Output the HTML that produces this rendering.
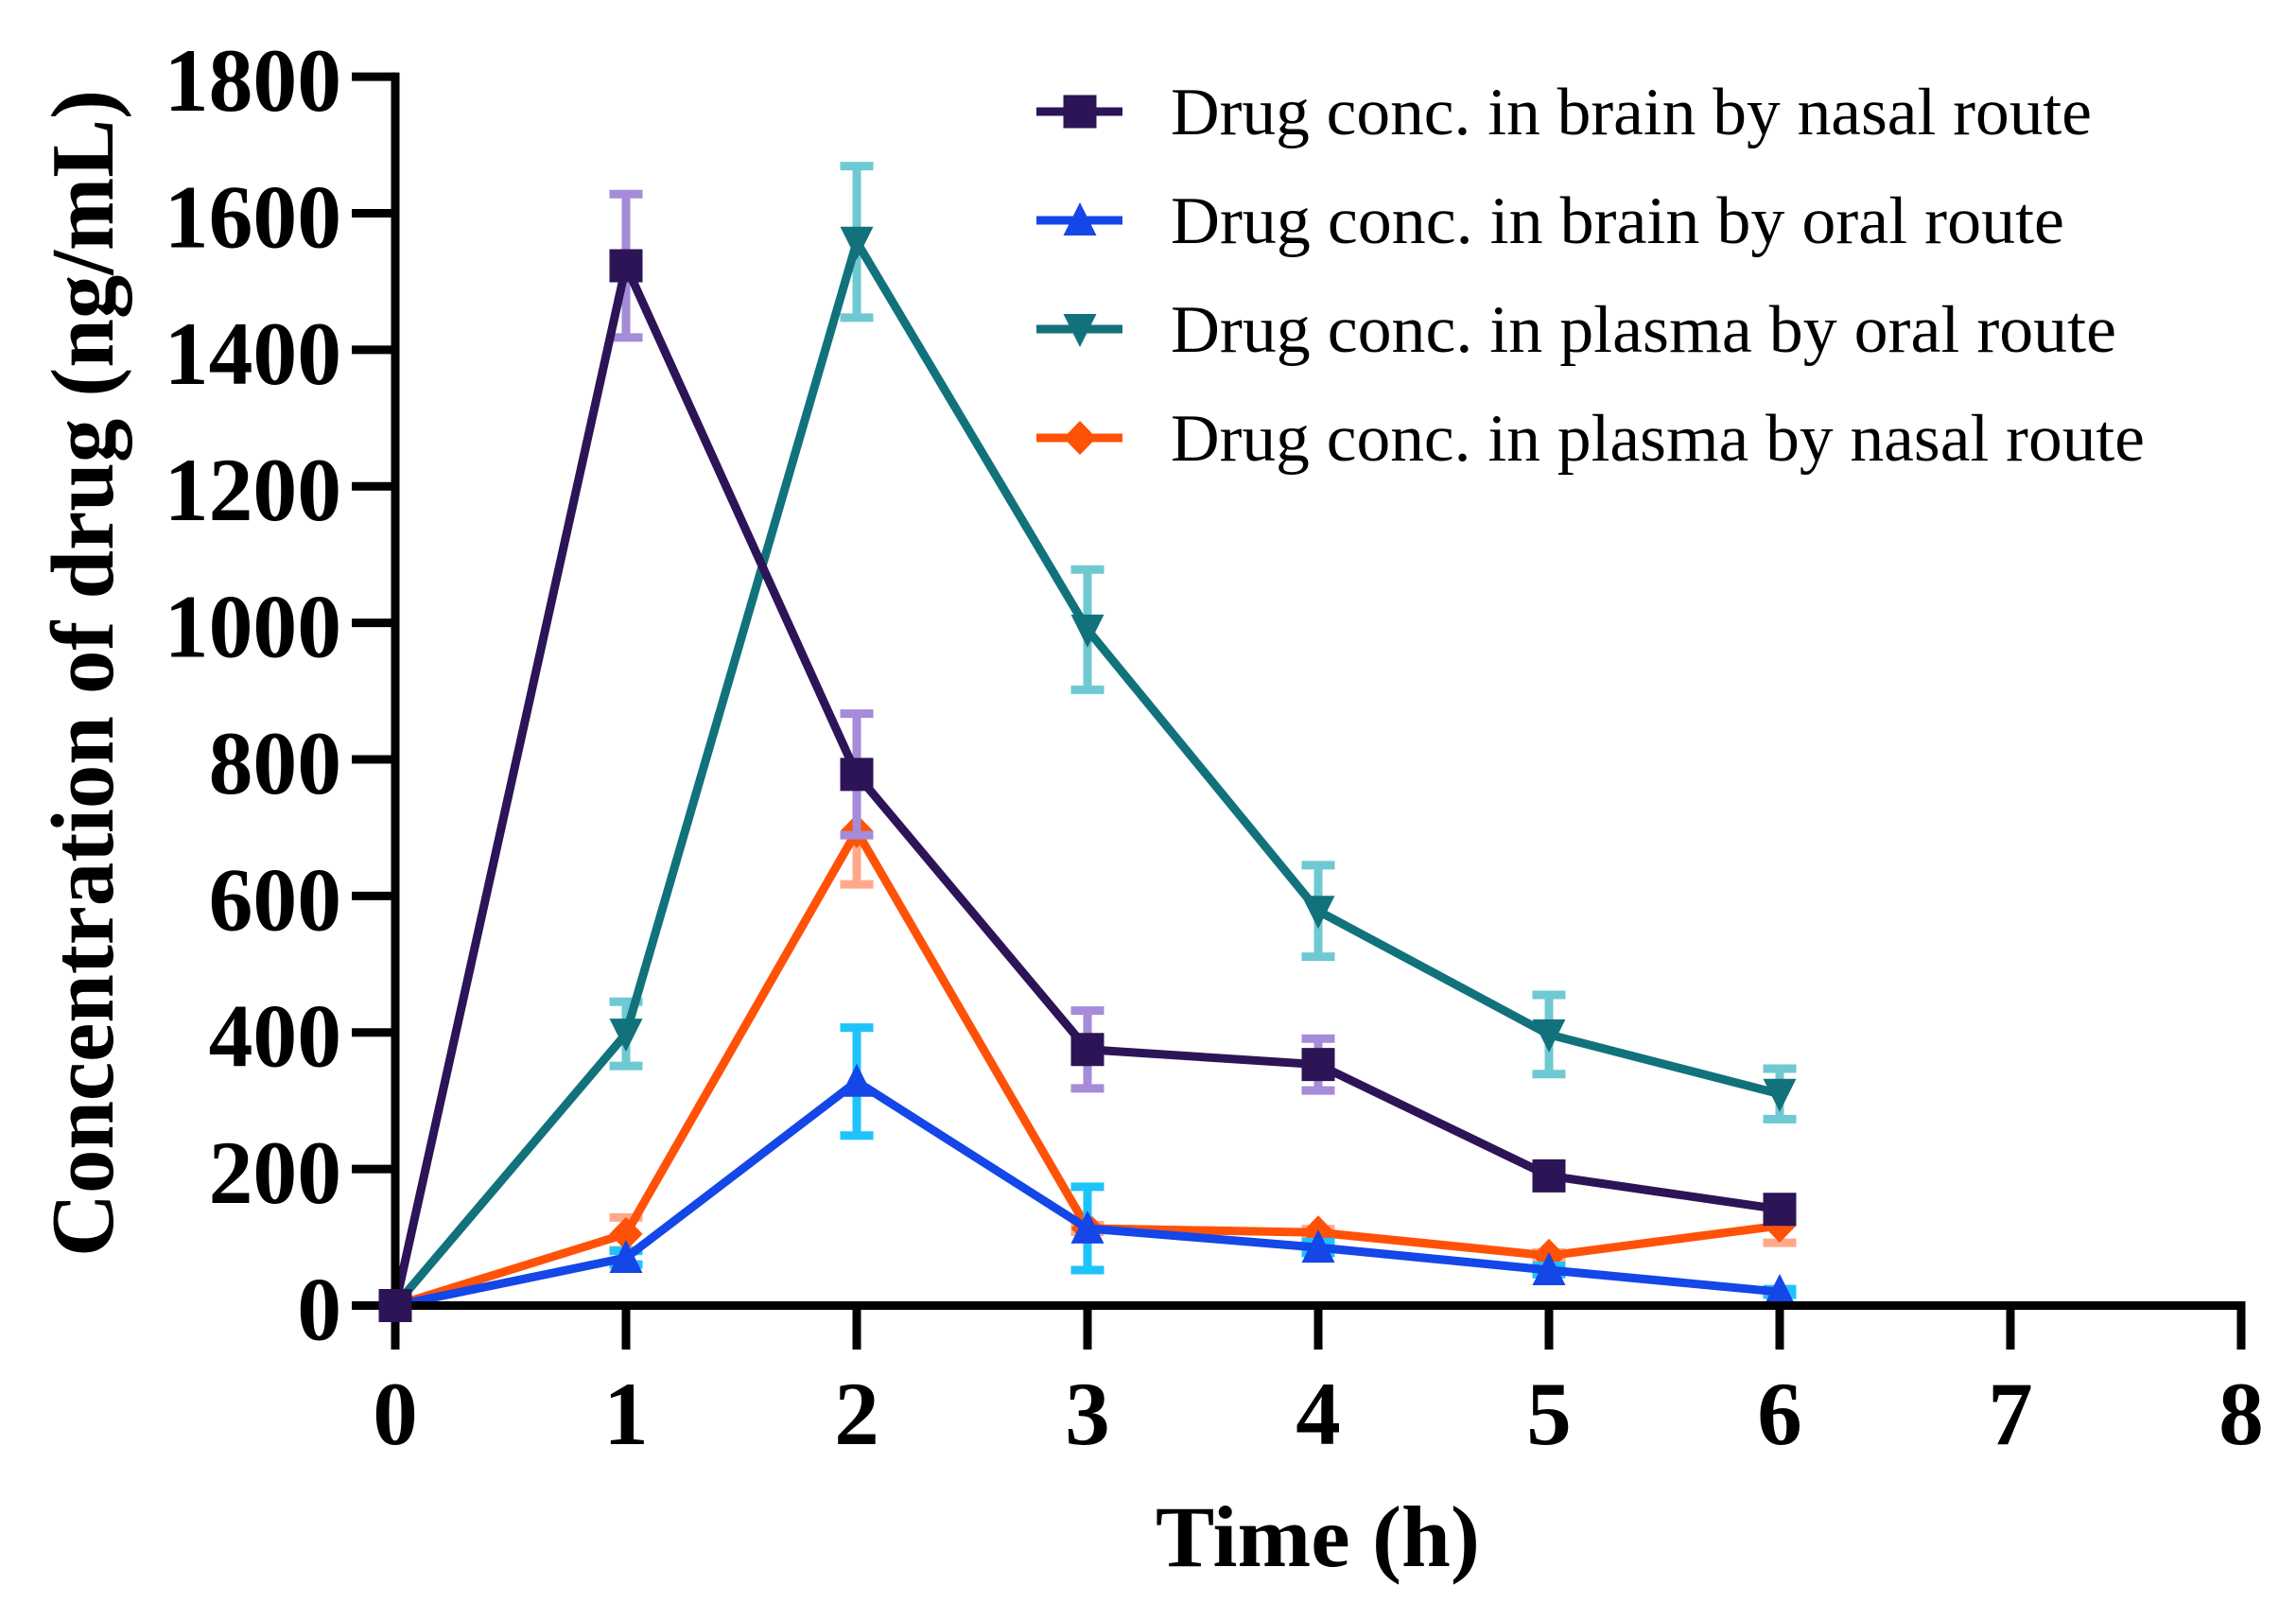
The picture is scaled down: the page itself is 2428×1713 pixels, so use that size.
<!DOCTYPE html>
<html lang="en">
<head>
<meta charset="utf-8">
<title>Drug concentration over time</title>
<style>
html,body{margin:0;padding:0;background:#fff;}
body{width:2428px;height:1713px;overflow:hidden;}
svg{display:block;}
text{font-family:"Liberation Serif",serif;fill:#000;}
.tick{font-weight:bold;font-size:95px;}
.title{font-weight:bold;font-size:92px;}
.y-title{font-weight:bold;font-size:94px;}
.legend-text{font-size:71px;}
</style>
</head>
<body>
<svg id="chart" xmlns="http://www.w3.org/2000/svg" width="2428" height="1713" viewBox="0 0 2428 1713">
  <rect x="0" y="0" width="2428" height="1713" fill="#ffffff"/>
  <g id="marks"></g>
  <g id="axes"></g>
  <g id="top-marks"></g>
  <text class="y-title" transform="translate(119,1329) rotate(-90)" textLength="1234" lengthAdjust="spacingAndGlyphs">Concentration of drug (ng/mL)</text>
  <text class="title" x="1222" y="1656" textLength="343" lengthAdjust="spacingAndGlyphs">Time (h)</text>
  <g id="legend">
    <text class="legend-text" x="1238" y="142" textLength="974" lengthAdjust="spacingAndGlyphs">Drug conc. in brain by nasal route</text>
    <text class="legend-text" x="1238" y="257" textLength="945" lengthAdjust="spacingAndGlyphs">Drug conc. in brain by oral route</text>
    <text class="legend-text" x="1238" y="372" textLength="1000" lengthAdjust="spacingAndGlyphs">Drug conc. in plasma by oral route</text>
    <text class="legend-text" x="1238" y="487" textLength="1030" lengthAdjust="spacingAndGlyphs">Drug conc. in plasma by nasal route</text>
  </g>
</svg>
<script>
const timePoints = [0, 1, 2, 3, 4, 5, 6];
const xTickLabels = [0, 1, 2, 3, 4, 5, 6, 7, 8];
const yTickLabels = [0, 200, 400, 600, 800, 1000, 1200, 1400, 1600, 1800];

const brainNasalValues = [0, 1523, 778, 375, 353, 190, 141];
const brainNasalErrors = [0, 105, 89, 57, 38, 10, 10];
const brainOralValues = [0, 70, 328, 113, 85, 52, 20];
const brainOralErrors = [0, 10, 79, 61, 8, 6, 4];
const plasmaOralValues = [0, 398, 1558, 990, 578, 397, 310];
const plasmaOralErrors = [0, 47, 111, 88, 67, 58, 37];
const plasmaNasalValues = [0, 105, 695, 113, 107, 73, 117];
const plasmaNasalErrors = [0, 24, 78, 5, 5, 5, 25];

const plot = { x0: 418, xStep: 244, y0: 1380.5, yPerUnit: 0.7219 };
const xScale = function (v) { return plot.x0 + v * plot.xStep; };
const yScale = function (v) { return plot.y0 - v * plot.yPerUnit; };
const NS = 'http://www.w3.org/2000/svg';

function make(tag, attrs, parent) {
  const el = document.createElementNS(NS, tag);
  for (const k in attrs) el.setAttribute(k, attrs[k]);
  parent.appendChild(el);
  return el;
}

function markerPath(shape, cx, cy) {
  const r = 17.5;
  if (shape === 'square') return `M${cx - r} ${cy - r}H${cx + r}V${cy + r}H${cx - r}Z`;
  if (shape === 'up') return `M${cx} ${cy - 19}L${cx + r} ${cy + 16}H${cx - r}Z`;
  if (shape === 'down') return `M${cx} ${cy + 19}L${cx + r} ${cy - 16}H${cx - r}Z`;
  return `M${cx} ${cy - 18}L${cx + r} ${cy}L${cx} ${cy + 18}L${cx - r} ${cy}Z`;
}

function drawSeries(parent, key, values, errors, color, errorColor, shape) {
  const group = make('g', {}, parent);
  
  

  timePoints.forEach(function (t, i) {
    if (!errors[i]) return;
    const x = xScale(t);
    const top = yScale(values[i] + errors[i]);
    const bottom = yScale(values[i] - errors[i]);
    const err = make('path', {
      d: `M${x} ${top}V${bottom}M${x - 17.5} ${top}H${x + 17.5}M${x - 17.5} ${bottom}H${x + 17.5}`,
      fill: 'none', stroke: errorColor, 'stroke-width': 9
    }, group);
    
    
  });

  const points = timePoints.map(function (t, i) {
    return xScale(t) + ',' + yScale(values[i]);
  }).join(' ');
  const line = make('polyline', {
    points: points, fill: 'none', stroke: color, 'stroke-width': 9, 'stroke-linejoin': 'miter'
  }, group);
  
  

  timePoints.forEach(function (t, i) {
    const target = (t === 0 && key === 'brain-nasal') ? document.getElementById('top-marks') : group;
    const m = make('path', { d: markerPath(shape, xScale(t), yScale(values[i])), fill: color }, target);
    
    
  });
}

const marks = document.getElementById('marks');
drawSeries(marks, 'plasma-nasal', plasmaNasalValues, plasmaNasalErrors, '#ff5208', '#ffa98a', 'diamond');
drawSeries(marks, 'plasma-oral', plasmaOralValues, plasmaOralErrors, '#11727c', '#6ec9d2', 'down');
drawSeries(marks, 'brain-oral', brainOralValues, brainOralErrors, '#1446e8', '#1ec3fb', 'up');
drawSeries(marks, 'brain-nasal', brainNasalValues, brainNasalErrors, '#2d1457', '#a58bd8', 'square');

const axes = document.getElementById('axes');
const xMax = xTickLabels[xTickLabels.length - 1];
const yMax = yTickLabels[yTickLabels.length - 1];

const yAxis = make('line', { x1: plot.x0, x2: plot.x0, y1: yScale(yMax) - 4.5, y2: 1427, stroke: '#000', 'stroke-width': 9 }, axes);



const xAxis = make('line', { x1: 372, x2: xScale(xMax) + 4.5, y1: plot.y0, y2: plot.y0, stroke: '#000', 'stroke-width': 9 }, axes);



yTickLabels.forEach(function (v) {
  const y = yScale(v);
  const tick = make('line', { x1: 372, x2: plot.x0, y1: y, y2: y, stroke: '#000', 'stroke-width': 9 }, axes);
  
  
  const label = make('text', { class: 'tick', x: 361, y: y + 36, 'text-anchor': 'end', textLength: String(v).length * 46.8, lengthAdjust: 'spacingAndGlyphs' }, axes);
  
  
  label.textContent = v;
});

xTickLabels.forEach(function (v) {
  const x = xScale(v);
  const tick = make('line', { x1: x, x2: x, y1: plot.y0, y2: 1427, stroke: '#000', 'stroke-width': 9 }, axes);
  
  
  const label = make('text', { class: 'tick', x: x, y: 1527, 'text-anchor': 'middle' }, axes);
  
  
  label.textContent = v;
});

const legendKeys = ['brain-nasal', 'brain-oral', 'plasma-oral', 'plasma-nasal'];
const legendColors = ['#2d1457', '#1446e8', '#11727c', '#ff5208'];
const legendShapes = ['square', 'up', 'down', 'diamond'];
const legend = document.getElementById('legend');
legendKeys.forEach(function (key, i) {
  const y = 118 + i * 115;
  const line = make('line', { x1: 1096, x2: 1187, y1: y, y2: y, stroke: legendColors[i], 'stroke-width': 9 }, legend);
  
  
  const m = make('path', { d: markerPath(legendShapes[i], 1142, y), fill: legendColors[i] }, legend);
  
  
});
</script>
</body>
</html>
